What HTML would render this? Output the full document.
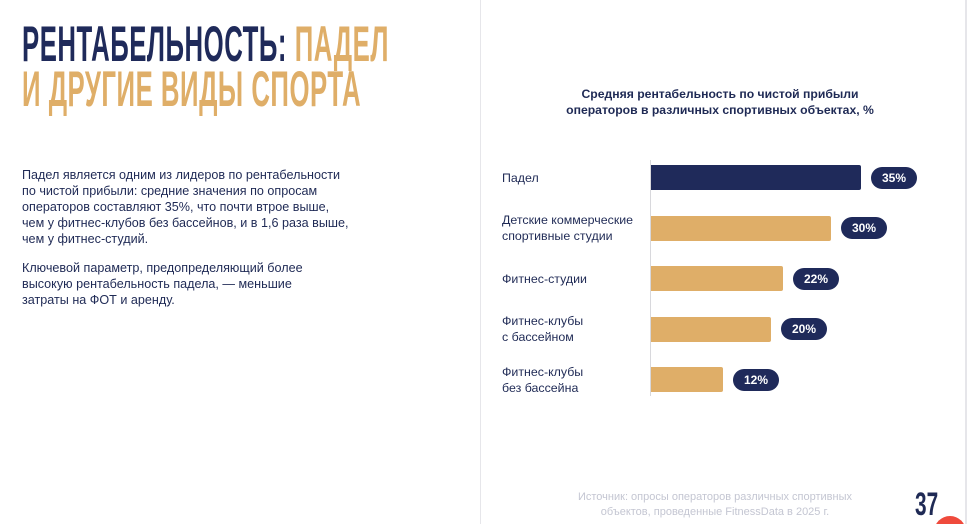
<!DOCTYPE html>
<html><head><meta charset="utf-8">
<style>
html,body{margin:0;width:970px;height:524px;overflow:hidden}
body{background:#fff;font-family:"Liberation Sans",sans-serif;position:relative}
.t{position:absolute;left:22px;font-weight:bold;font-size:50px;line-height:50px;transform:scaleX(0.515);transform-origin:left top;white-space:nowrap;letter-spacing:1px}
.p{position:absolute;left:22px;font-size:12.6px;line-height:16px;color:#1f2a55;white-space:nowrap}
.lbl{position:absolute;left:502px;font-size:12.4px;line-height:16px;color:#1f2a55}
</style></head><body>
<div style="position:absolute;left:480px;top:0;width:1px;height:524px;background:#e6e6ea"></div>
<div style="position:absolute;left:965px;top:0;width:2px;height:524px;background:#e6e6ea"></div>
<div class="t" style="top:19px"><span style="color:#1f2a5a">РЕНТАБЕЛЬНОСТЬ:</span> <span style="color:#dfae68">ПАДЕЛ</span></div>
<div class="t" style="top:64px;color:#dfae68">И ДРУГИЕ ВИДЫ СПОРТА</div>
<div class="p" style="top:167px">Падел является одним из лидеров по рентабельности<br>по чистой прибыли: средние значения по опросам<br>операторов составляют 35%, что почти втрое выше,<br>чем у фитнес-клубов без бассейнов, и в 1,6 раза выше,<br>чем у фитнес-студий.</div>
<div class="p" style="top:260px">Ключевой параметр, предопределяющий более<br>высокую рентабельность падела, — меньшие<br>затраты на ФОТ и аренду.</div>
<div style="position:absolute;left:520px;top:86px;width:400px;text-align:center;font-size:12.2px;line-height:16px;font-weight:bold;color:#1f2a55">Средняя рентабельность по чистой прибыли<br>операторов в различных спортивных объектах, %</div>
<div style="position:absolute;left:650px;top:160px;width:1px;height:236px;background:#d8d8dc"></div>
<div id="chart"></div>
<div style="position:absolute;left:520px;top:490px;width:390px;text-align:center;font-size:11px;line-height:15px;color:#c4c6d2">Источник: опросы операторов различных спортивных<br>объектов, проведенные FitnessData в 2025 г.</div>
<div style="position:absolute;left:915px;top:486px;font-size:32px;font-weight:bold;color:#1f2a55;transform:scaleX(0.65);transform-origin:left top">37</div>
<div style="position:absolute;left:934px;top:516px;width:32px;height:32px;border-radius:50%;background:#ef4a3c"></div>
<script>
const categories=["Падел","Детские коммерческие<br>спортивные студии","Фитнес-студии","Фитнес-клубы<br>с бассейном","Фитнес-клубы<br>без бассейна"];
const values=[35,30,22,20,12];
const valueLabels=["35%","30%","22%","20%","12%"];
const x0=651,scale=6.0,yTop=165,step=50.5,barH=25;
const c=document.getElementById('chart');
values.forEach((v,i)=>{
  const y=yTop+i*step, w=v*scale;
  const b=document.createElement('div');
  
  
  b.style.cssText=`position:absolute;left:${x0}px;top:${y}px;width:${w}px;height:${barH}px;background:${i==0?'#1f2a5a':'#dfae68'};border-radius:0 2px 2px 0`;
  c.appendChild(b);
  const p=document.createElement('div');
  
  
  p.style.cssText=`position:absolute;left:${x0+w+10}px;top:${y+1.5}px;width:46px;height:22px;border-radius:11px;background:#1f2a5a;color:#fff;font-size:12px;font-weight:bold;line-height:22px;text-align:center`;
  p.textContent=valueLabels[i];
  c.appendChild(p);
  const l=document.createElement('div');
  
  
  l.className='lbl';
  const two=categories[i].includes('<br>');
  l.style.top=(y+barH/2-(two?16:8))+'px';
  l.innerHTML=categories[i];
  c.appendChild(l);
});
</script>
</body></html>
